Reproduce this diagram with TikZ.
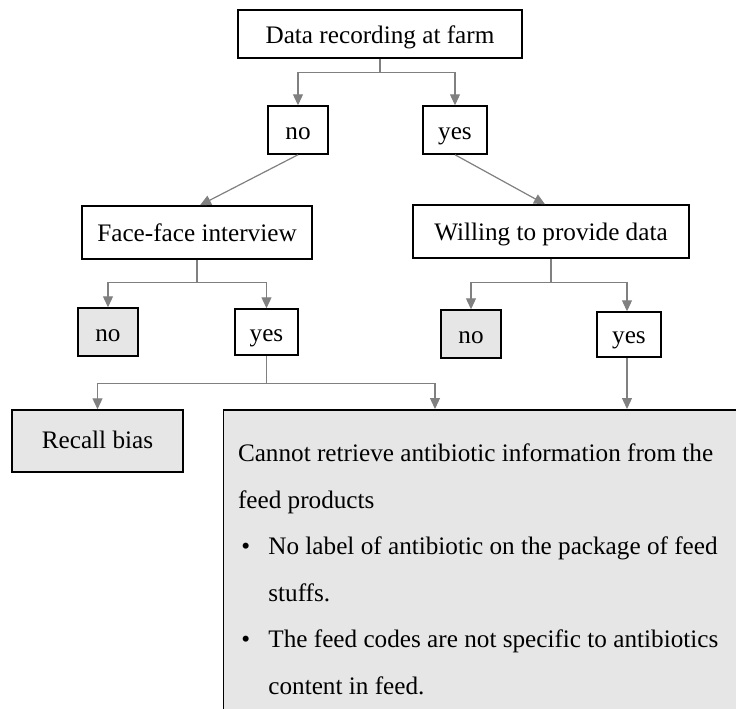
\documentclass[tikz,border=0pt]{standalone}
\usepackage{fontspec}
\setmainfont{Liberation Serif}
\usetikzlibrary{arrows.meta}
\definecolor{boxgray}{HTML}{E6E6E6}
\definecolor{linegray}{HTML}{808080}
\tikzset{
  box/.style={draw=black, line width=0.75pt, fill=white, inner sep=0pt, align=center,
              text height=9.5pt, text depth=0.5pt,
              font=\fontsize{12.6}{15}\selectfont},
  graybox/.style={box, fill=boxgray},
  conn/.style={draw=linegray, line width=0.6pt, -{Triangle[width=5pt,length=5.5pt]}, linegray},
  txt/.style={anchor=base west, inner sep=0pt, font=\fontsize{12.6}{15}\selectfont}
}
\begin{document}
\begin{tikzpicture}[x=0.5pt,y=-0.5pt]
\clip (0,0) rectangle (736,709);
\fill[white] (0,0) rectangle (736,709);
% boxes
\node[box, minimum width=142pt, minimum height=24pt] (top) at (380,34) {Data recording at farm};
\node[box, minimum width=30pt, minimum height=24pt] (no1) at (298,130) {no};
\node[box, minimum width=32pt, minimum height=24pt] (yes1) at (455,130) {yes};
\node[box, minimum width=115pt, minimum height=26.5pt] (face) at (197,232.5) {Face-face interview};
\node[box, minimum width=138pt, minimum height=26.5pt] (will) at (551,231.5) {Willing to provide data};
\node[graybox, minimum width=30pt, minimum height=24pt] (no2) at (108,332) {no};
\node[box, minimum width=31.5pt, minimum height=23pt] (yes2) at (266.5,332) {yes};
\node[graybox, minimum width=30pt, minimum height=24pt] (no3) at (471,334) {no};
\node[box, minimum width=32pt, minimum height=22.5pt] (yes3) at (629,334.5) {yes};
\node[graybox, minimum width=85.5pt, minimum height=31pt, text height=8.5pt, text depth=1.5pt] (recall) at (97.5,441) {Recall bias};
\node[graybox, anchor=north west, minimum width=300pt, minimum height=200pt] (big) at (223,409) {};
% big box text
\node[txt] (l1) at (237.6,461.5) {Cannot retrieve antibiotic information from the};
\node[txt] (l2) at (237.6,508) {feed products};
\node[txt] (b1) at (241,554.5) {•};
\node[txt] (l3) at (268,554.5) {No label of antibiotic on the package of feed};
\node[txt] (l4) at (268,601) {stuffs.};
\node[txt] (b2) at (241,647.5) {•};
\node[txt] (l5) at (268,647.5) {The feed codes are not specific to antibiotics};
\node[txt] (l6) at (268,694) {content in feed.};
\coordinate (bigin) at (435,409);
% connectors
\draw[conn] (top.south) -- ++(0,14) -| (no1.north);
\draw[conn] (top.south) -- ++(0,14) -| (yes1.north);
\draw[conn] (no1.south) -- ([xshift=1.5pt]face.north);
\draw[conn] (yes1.south) -- ([xshift=-3pt]will.north);
\draw[conn] (face.south) -- ++(0,23) -| (no2.north);
\draw[conn] (face.south) -- ++(0,23) -| (yes2.north);
\draw[conn] (will.south) -- ++(0,24) -| (no3.north);
\draw[conn] (will.south) -- ++(0,24) -| ([xshift=-1pt]yes3.north);
\draw[conn] (yes2.south) -- ++(0,28) -| (recall.north);
\draw[conn] (yes2.south) -- ++(0,28) -| (bigin);
\draw[conn] ([xshift=-1pt]yes3.south) -- ([xshift=-1pt]yes3.south |- big.north);
\end{tikzpicture}
\end{document}
